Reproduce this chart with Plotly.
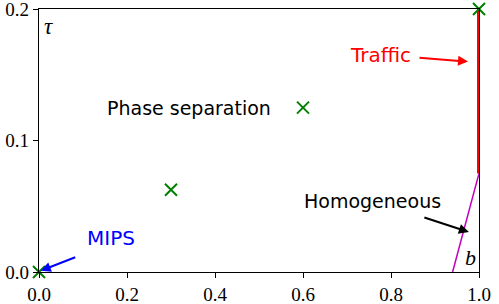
import plotly.graph_objects as go

# data
pt_x = [0.0, 0.3, 0.6, 1.0]
pt_y = [0.0, 0.0625, 0.125, 0.2]
traffic_x = [1.0, 1.0]
traffic_y = [0.075, 0.2]
homog_x = [0.94, 1.0]
homog_y = [0.0, 0.075]
xticks = [0.0, 0.2, 0.4, 0.6, 0.8, 1.0]
yticks = [0.0, 0.1, 0.2]

fig = go.Figure()
fig.add_trace(go.Scatter(x=homog_x, y=homog_y, mode="lines",
                         line=dict(color="#bf00bf", width=1.5), cliponaxis=False))
fig.add_trace(go.Scatter(x=traffic_x, y=traffic_y, mode="lines",
                         line=dict(color="red", width=4), cliponaxis=False))
fig.add_trace(go.Scatter(x=pt_x, y=pt_y, mode="markers", cliponaxis=False,
                         marker=dict(symbol="x-thin-open", size=12,
                                     line=dict(color="green", width=2), color="green")))

sans = "DejaVu Sans"
serif = "Liberation Serif"

def txt(x, y, s, color="black", size=19, fam=sans):
    fig.add_annotation(x=x, y=y, text=s, showarrow=False,
                       font=dict(family=fam, size=size, color=color))

def arrow(x, y, ax, ay, color):
    fig.add_annotation(x=x, y=y, ax=ax, ay=ay, text="", showarrow=True,
                       arrowhead=2, arrowsize=1, arrowwidth=2, arrowcolor=color,
                       standoff=0, startstandoff=0)

txt(0.775, 0.165, "Traffic", color="red", size=20)
arrow(0.975, 0.16, -50, -4, "red")
txt(0.757, 0.054, "Homogeneous")
arrow(0.977, 0.0304, -46, -15, "black")
txt(0.164, 0.0259, "MIPS", color="blue", size=20)
arrow(0.004, 0.001, 36, -14, "blue")
txt(0.341, 0.1247, "Phase separation")
txt(0.022, 0.187, "<i>τ</i>", size=23, fam=serif)
txt(0.98, 0.011, "<i>b</i>", size=22, fam=serif)

axis_common = dict(showgrid=False, zeroline=False, showline=True, linecolor="black",
                   linewidth=1.2, mirror=True, ticks="outside", ticklen=5,
                   tickcolor="black", automargin=False, ticklabeloverflow="allow",
                   tickfont=dict(family=serif, size=19, color="black"))
fig.update_xaxes(range=[0, 1], tickvals=xticks, ticktext=[f"{v:.1f}" for v in xticks], **axis_common)
fig.update_yaxes(range=[0, 0.2], tickvals=yticks, ticktext=[f"{v:.1f}" for v in yticks], **axis_common)

fig.update_layout(width=499, height=304, margin=dict(l=39, r=20, t=9, b=32),
                  plot_bgcolor="white", paper_bgcolor="white", showlegend=False)
fig.write_html("out.html", config={"displayModeBar": False},
               post_script="document.body.style.margin='0';")
